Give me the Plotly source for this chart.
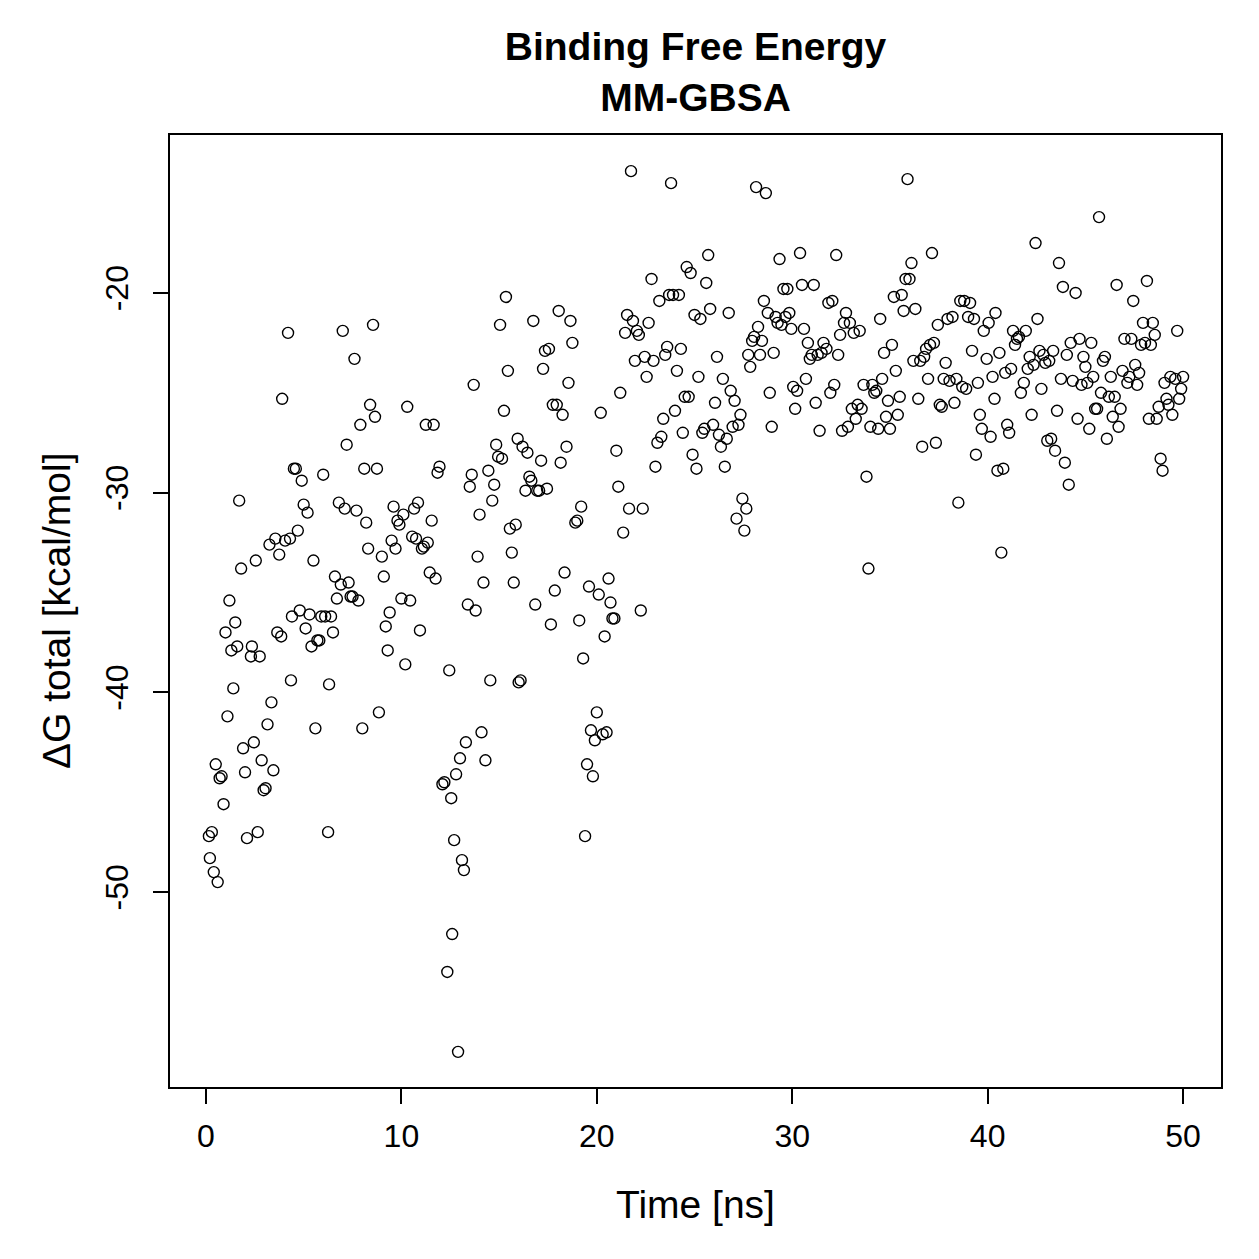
import plotly.graph_objects as go

# (time [ns], dG total [kcal/mol])
seg_00_05 = [(0.15,-47.2),(0.3,-47.0),(0.2,-48.3),(0.4,-49.0),(0.6,-49.5),(0.5,-43.6),(0.7,-44.3),(0.8,-44.2),(0.9,-45.6),(1.0,-37.0),
             (1.1,-41.2),(1.2,-35.4),(1.3,-37.9),(1.4,-39.8),(1.5,-36.5),(1.6,-37.7),(1.7,-30.4),(1.8,-33.8),(1.9,-42.8),(2.0,-44.0),
             (2.1,-47.3),(2.3,-38.2),(2.35,-37.7),(2.45,-42.5),(2.55,-33.4),(2.65,-47.0),(2.75,-38.2),(2.85,-43.4),(2.95,-44.9),(3.05,-44.8),
             (3.15,-41.6),(3.25,-32.6),(3.35,-40.5),(3.45,-43.9),(3.55,-32.3),(3.65,-37.0),(3.75,-33.1),(3.85,-37.2),(3.9,-25.3),(4.05,-32.4),
             (4.2,-22.0),(4.3,-32.3),(4.35,-39.4),(4.4,-36.2),(4.5,-28.8),(4.6,-28.8),(4.7,-31.9),(4.8,-35.9),(4.9,-29.4),(5.0,-30.6)]
seg_05_10 = [(5.1,-36.8),(5.2,-31.0),(5.3,-36.1),(5.4,-37.7),(5.5,-33.4),(5.6,-41.8),(5.7,-37.4),(5.8,-37.4),(5.9,-36.2),(6.0,-29.1),
             (6.1,-36.2),(6.25,-47.0),(6.3,-39.6),(6.4,-36.2),(6.5,-37.0),(6.6,-34.2),(6.7,-35.3),(6.8,-30.5),(6.9,-34.6),(7.0,-21.9),
             (7.1,-30.8),(7.2,-27.6),(7.3,-34.5),(7.4,-35.2),(7.5,-35.2),(7.6,-23.3),(7.7,-30.9),(7.8,-35.4),(7.9,-26.6),(8.0,-41.8),
             (8.1,-28.8),(8.2,-31.5),(8.3,-32.8),(8.4,-25.6),(8.55,-21.6),(8.65,-26.2),(8.75,-28.8),(8.85,-41.0),(9.0,-33.2),(9.1,-34.2),
             (9.2,-36.7),(9.3,-37.9),(9.4,-36.0),(9.5,-32.4),(9.6,-30.7),(9.7,-32.8),(9.8,-31.4),(9.9,-31.6),(10.0,-35.3)]
seg_10_15 = [(10.1,-31.1),(10.2,-38.6),(10.3,-25.7),(10.45,-35.4),(10.55,-32.2),(10.65,-30.8),(10.75,-32.3),(10.85,-30.5),(10.95,-36.9),(11.05,-32.8),
             (11.15,-32.7),(11.25,-26.6),(11.35,-32.5),(11.45,-34.0),(11.55,-31.4),(11.65,-26.6),(11.75,-34.3),(11.85,-29.0),(11.95,-28.7),(12.1,-44.6),
             (12.2,-44.5),(12.35,-54.0),(12.45,-38.9),(12.55,-45.3),(12.6,-52.1),(12.7,-47.4),(12.8,-44.1),(12.9,-58.0),(13.0,-43.3),(13.1,-48.4),
             (13.2,-48.9),(13.3,-42.5),(13.4,-35.6),(13.5,-29.7),(13.6,-29.1),(13.7,-24.6),(13.8,-35.9),(13.9,-33.2),(14.0,-31.1),(14.1,-42.0),
             (14.2,-34.5),(14.3,-43.4),(14.45,-28.9),(14.55,-39.4),(14.65,-30.4),(14.75,-29.6),(14.85,-27.6),(14.95,-28.2)]
seg_15_20 = [(15.05,-21.6),(15.15,-28.3),(15.25,-25.9),(15.35,-20.2),(15.45,-23.9),(15.55,-31.8),(15.65,-33.0),(15.75,-34.5),(15.85,-31.6),(15.95,-27.3),
             (16.0,-39.5),(16.1,-39.4),(16.2,-27.7),(16.35,-29.9),(16.45,-28.0),(16.55,-29.2),(16.65,-29.4),(16.75,-21.4),(16.85,-35.6),(16.95,-29.9),
             (17.05,-29.9),(17.15,-28.4),(17.25,-23.8),(17.35,-22.9),(17.45,-29.8),(17.55,-22.8),(17.65,-36.6),(17.75,-25.6),(17.85,-34.9),(17.95,-25.6),
             (18.05,-20.9),(18.15,-28.5),(18.25,-26.1),(18.35,-34.0),(18.45,-27.7),(18.55,-24.5),(18.65,-21.4),(18.75,-22.5),(18.9,-31.5),(19.0,-31.4),
             (19.1,-36.4),(19.2,-30.7),(19.3,-38.3),(19.4,-47.2),(19.5,-43.6),(19.6,-34.7),(19.7,-41.9),(19.8,-44.2),(19.9,-42.4),(20.0,-41.0)]
seg_20_25 = [(20.1,-35.1),(20.2,-26.0),(20.3,-42.1),(20.4,-37.2),(20.5,-42.0),(20.6,-34.3),(20.7,-35.5),(20.8,-36.3),(20.9,-36.3),(21.0,-27.9),
             (21.1,-29.7),(21.2,-25.0),(21.35,-32.0),(21.45,-22.0),(21.55,-21.1),(21.65,-30.8),(21.75,-13.9),(21.85,-21.4),(21.95,-23.4),(22.05,-21.9),
             (22.15,-22.1),(22.25,-35.9),(22.35,-30.8),(22.45,-23.2),(22.55,-24.2),(22.65,-21.5),(22.8,-19.3),(22.9,-23.4),(23.0,-28.7),(23.1,-27.5),
             (23.2,-20.4),(23.3,-27.2),(23.4,-26.3),(23.5,-23.1),(23.6,-22.7),(23.7,-20.1),(23.8,-14.5),(23.9,-20.1),(24.0,-25.9),(24.1,-23.9),
             (24.2,-20.1),(24.3,-22.8),(24.4,-27.0),(24.5,-25.2),(24.6,-18.7),(24.7,-25.2),(24.8,-19.0),(24.9,-28.1),(25.0,-21.1)]
seg_25_30 = [(25.1,-28.8),(25.2,-24.2),(25.3,-21.3),(25.4,-27.0),(25.5,-26.8),(25.6,-19.5),(25.7,-18.1),(25.8,-20.8),(25.95,-26.6),(26.05,-25.5),
             (26.15,-23.2),(26.25,-27.1),(26.35,-27.7),(26.45,-24.3),(26.55,-28.7),(26.65,-27.3),(26.75,-21.0),(26.85,-24.9),(26.95,-26.7),(27.05,-25.4),
             (27.15,-31.3),(27.25,-26.6),(27.35,-26.1),(27.45,-30.3),(27.55,-31.9),(27.65,-30.8),(27.75,-23.1),(27.85,-23.7),(27.95,-22.4),(28.05,-22.2),
             (28.15,-14.7),(28.25,-21.7),(28.35,-23.1),(28.45,-22.4),(28.55,-20.4),(28.65,-15.0),(28.75,-21.0),(28.85,-25.0),(28.95,-26.7),(29.05,-23.0),
             (29.15,-21.2),(29.25,-21.5),(29.35,-18.3),(29.45,-21.6),(29.55,-19.8),(29.65,-21.2),(29.75,-19.8),(29.85,-21.0),(29.95,-21.8)]
seg_30_35 = [(30.05,-24.7),(30.15,-25.8),(30.25,-24.9),(30.4,-18.0),(30.5,-19.6),(30.6,-21.8),(30.7,-24.3),(30.8,-22.5),(30.9,-23.3),(31.0,-23.1),
             (31.1,-19.6),(31.2,-25.5),(31.3,-23.1),(31.4,-26.9),(31.5,-23.0),(31.6,-22.5),(31.75,-22.8),(31.85,-20.5),(31.95,-25.0),(32.05,-20.4),
             (32.15,-24.6),(32.25,-18.1),(32.35,-23.1),(32.45,-22.1),(32.55,-26.9),(32.65,-21.5),(32.75,-21.0),(32.85,-26.7),(32.95,-21.5),(33.05,-25.8),
             (33.15,-22.0),(33.25,-26.3),(33.35,-25.6),(33.45,-21.9),(33.55,-25.8),(33.65,-24.6),(33.8,-29.2),(33.9,-33.8),(34.0,-26.7),(34.1,-24.6),
             (34.2,-25.0),(34.3,-24.9),(34.4,-26.8),(34.5,-21.3),(34.6,-24.3),(34.7,-23.0),(34.8,-26.2),(34.9,-25.4),(35.0,-26.8)]
seg_35_40 = [(35.1,-22.6),(35.2,-20.2),(35.3,-23.9),(35.4,-26.1),(35.5,-25.2),(35.6,-20.1),(35.7,-20.9),(35.8,-19.3),(35.9,-14.3),(36.0,-19.3),
             (36.1,-18.5),(36.2,-23.4),(36.3,-20.8),(36.45,-25.3),(36.55,-23.4),(36.65,-27.7),(36.75,-23.2),(36.85,-22.8),(36.95,-24.3),(37.05,-22.6),
             (37.15,-18.0),(37.25,-22.5),(37.35,-27.5),(37.45,-21.6),(37.55,-25.6),(37.65,-25.7),(37.75,-24.3),(37.85,-23.5),(37.95,-21.3),(38.05,-24.4),
             (38.2,-21.2),(38.3,-25.5),(38.4,-24.3),(38.5,-30.5),(38.6,-20.4),(38.7,-24.7),(38.8,-20.4),(38.9,-24.8),(39.0,-21.2),(39.1,-20.5),
             (39.2,-22.9),(39.3,-21.3),(39.4,-28.1),(39.5,-24.5),(39.6,-26.1),(39.7,-26.8),(39.8,-21.9),(39.95,-23.3)]
seg_40_45 = [(40.05,-21.5),(40.15,-27.2),(40.25,-24.2),(40.35,-25.3),(40.4,-21.0),(40.5,-28.9),(40.6,-23.0),(40.7,-33.0),(40.8,-28.8),(40.9,-24.0),
             (41.0,-26.6),(41.1,-27.0),(41.2,-23.8),(41.3,-21.9),(41.4,-22.6),(41.5,-22.3),(41.6,-22.2),(41.7,-25.0),(41.85,-24.5),(41.95,-21.9),
             (42.05,-23.8),(42.15,-23.2),(42.25,-26.1),(42.35,-23.6),(42.45,-17.5),(42.55,-21.3),(42.65,-22.9),(42.75,-24.8),(42.85,-23.1),(42.95,-23.5),
             (43.05,-27.4),(43.15,-23.4),(43.25,-27.3),(43.35,-22.9),(43.45,-27.9),(43.55,-25.9),(43.65,-18.5),(43.75,-24.3),(43.85,-19.7),(43.95,-28.5),
             (44.05,-23.1),(44.15,-29.6),(44.25,-22.5),(44.35,-24.4),(44.5,-20.0),(44.6,-26.3),(44.7,-22.3),(44.8,-24.6),(44.9,-23.2),(45.0,-23.7)]
seg_45_50 = [(45.1,-24.5),(45.2,-26.8),(45.3,-22.5),(45.4,-24.2),(45.5,-25.8),(45.6,-25.8),(45.7,-16.2),(45.8,-25.0),(45.9,-23.4),(46.0,-23.2),
             (46.1,-27.3),(46.2,-25.2),(46.3,-24.2),(46.4,-26.2),(46.5,-25.2),(46.6,-19.6),(46.7,-26.7),(46.8,-25.8),(46.9,-23.9),(47.0,-22.3),
             (47.15,-24.5),(47.25,-24.2),(47.35,-22.3),(47.45,-20.4),(47.55,-23.6),(47.65,-24.6),(47.75,-24.0),(47.85,-22.6),(47.95,-21.5),(48.05,-22.5),
             (48.15,-19.4),(48.25,-26.3),(48.35,-22.6),(48.45,-21.5),(48.55,-22.1),(48.65,-26.3),(48.75,-25.7),(48.85,-28.3),(48.95,-28.9),(49.05,-24.5),
             (49.15,-25.3),(49.25,-25.6),(49.35,-24.2),(49.45,-26.1),(49.6,-24.3),(49.7,-21.9),(49.8,-25.3),(49.9,-24.8),(50.0,-24.2)]

segments = [seg_00_05, seg_05_10, seg_10_15, seg_15_20, seg_20_25,
            seg_25_30, seg_30_35, seg_35_40, seg_40_45, seg_45_50]
time_ns = [p[0] for s in segments for p in s]
dg_total = [p[1] for s in segments for p in s]

x_ticks = [0, 10, 20, 30, 40, 50]
y_ticks = [-50, -40, -30, -20]

FONT = "Liberation Sans, Arial, Helvetica, sans-serif"

fig = go.Figure()
fig.add_trace(go.Scatter(
    x=time_ns, y=dg_total, mode="markers",
    marker=dict(symbol="circle-open", size=11, color="black", line=dict(width=1.4, color="black")),
    showlegend=False, hoverinfo="x+y",
))

axis_common = dict(
    showline=True, mirror=True, linecolor="black", linewidth=2,
    ticks="outside", ticklen=15, tickwidth=2, tickcolor="black",
    showgrid=False, zeroline=False,
    tickfont=dict(family=FONT, size=32, color="black"),
)
fig.update_xaxes(range=[-1.84, 51.94], tickvals=x_ticks, ticktext=[str(v) for v in x_ticks],
                 ticklabelstandoff=5, **axis_common)
fig.update_yaxes(range=[-59.76, -12.09], tickvals=y_ticks, ticktext=[str(v) for v in y_ticks],
                 tickangle=-90, ticklabelstandoff=12, **axis_common)

fig.update_layout(
    width=1259, height=1259,
    margin=dict(l=170, r=38, t=135, b=172),
    paper_bgcolor="white", plot_bgcolor="white",
    font=dict(family=FONT, color="black"),
    title=dict(text="<b>Binding Free Energy<br>MM-GBSA</b>", x=0.5, xref="paper", xanchor="center",
               y=1 - 60 / 1259, yref="container", yanchor="middle",
               font=dict(family=FONT, size=39, color="black")),
    annotations=[
        dict(text="Time [ns]", xref="paper", yref="paper", x=0.5, y=(1087 - 1204) / 952,
             xanchor="center", yanchor="middle", showarrow=False,
             font=dict(family=FONT, size=39, color="black")),
        dict(text="\u0394G total [kcal/mol]", xref="paper", yref="paper", x=(56 - 170) / 1051, y=0.5,
             xanchor="center", yanchor="middle", textangle=-90, showarrow=False,
             font=dict(family=FONT, size=39, color="black")),
    ],
)

fig.write_html("out.html")
